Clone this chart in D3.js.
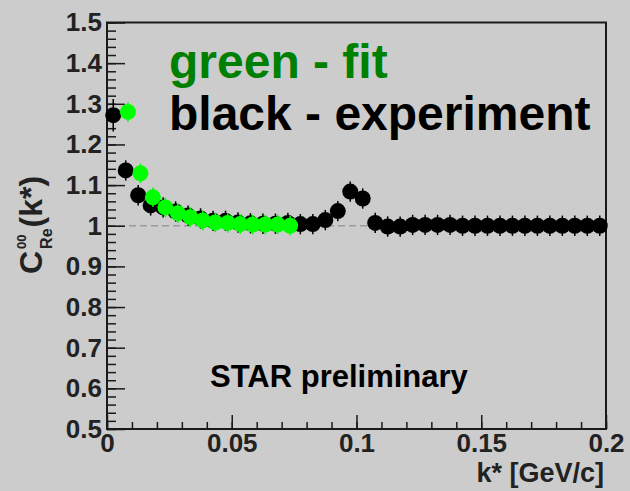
<!DOCTYPE html>
<html>
<head>
<meta charset="utf-8">
<script src="https://d3js.org/d3.v7.min.js"></script>
<style>
  body { margin: 0; background: #cccccc; }
  text { font-family: "Liberation Sans", Arial, sans-serif; font-weight: bold; }
</style>
</head>
<body>
<script>
// experiment points (black), bin centres every 0.005
var expK = d3.range(40).map(function(i) { return 0.0025 + 0.005 * i; });
var expC = [1.272, 1.136, 1.075, 1.050, 1.045, 1.035, 1.025, 1.018, 1.012, 1.012,
            1.008, 1.006, 1.005, 1.005, 1.007, 1.004, 1.004, 1.014, 1.036, 1.084,
            1.067, 1.007, 0.998, 0.998, 1.002, 1.002, 1.002, 1.002, 1.000, 1.000,
            1.000, 1.000, 1.000, 1.000, 1.000, 1.000, 1.000, 1.000, 1.000, 1.000];
var expErr = [0.040, 0.025, 0.025, 0.025, 0.025, 0.025, 0.025, 0.025, 0.025, 0.025,
              0.025, 0.025, 0.025, 0.025, 0.025, 0.025, 0.025, 0.025, 0.025, 0.025,
              0.025, 0.025, 0.025, 0.025, 0.025, 0.025, 0.025, 0.025, 0.025, 0.025,
              0.025, 0.025, 0.025, 0.025, 0.025, 0.025, 0.025, 0.025, 0.025, 0.025];

// fit points (green)
var fitK = d3.range(14).map(function(i) { return 0.0084 + 0.005 * i; });
var fitC = [1.280, 1.129, 1.070, 1.045, 1.031, 1.021, 1.013, 1.008, 1.007, 1.004,
            1.003, 1.003, 1.003, 1.000];
var fitErr = 0.024;

var yMajor = [0.5, 0.6, 0.7, 0.8, 0.9, 1.0, 1.1, 1.2, 1.3, 1.4, 1.5];
var xMajor = [0, 0.05, 0.1, 0.15, 0.2];

var W = 630, H = 491;
var x = d3.scaleLinear().domain([0, 0.2]).range([107, 606]);
var y = d3.scaleLinear().domain([0.5, 1.5]).range([429, 22.5]);

var svg = d3.select("body").append("svg")
    .attr("width", W).attr("height", H);

svg.append("rect").attr("width", W).attr("height", H).attr("fill", "#cccccc");

// dashed reference line at 1
svg.append("line")
    .attr("x1", x(0)).attr("x2", x(0.2))
    .attr("y1", y(1)).attr("y2", y(1))
    .attr("stroke", "#9a9a9a").attr("stroke-width", 1.5)
    .attr("stroke-dasharray", "7,4");

// frame
svg.append("rect")
    .attr("x", x(0)).attr("y", y(1.5))
    .attr("width", x(0.2) - x(0)).attr("height", y(0.5) - y(1.5))
    .attr("fill", "none").attr("stroke", "#1a1a1a").attr("stroke-width", 2);

// minor ticks
var yMinor = d3.range(51).map(function(i) { return 0.5 + i * 0.02; });
var xMinor = d3.range(21).map(function(i) { return i * 0.01; });

svg.append("g").attr("transform", "translate(" + x(0) + ",0)")
    .call(d3.axisLeft(y).tickValues(yMinor).tickSize(-9).tickFormat(""))
    .call(function(g) { g.select(".domain").remove(); g.selectAll("line").attr("stroke", "#1a1a1a").attr("stroke-width", 1.5); });

svg.append("g").attr("transform", "translate(0," + y(0.5) + ")")
    .call(d3.axisBottom(x).tickValues(xMinor).tickSize(-7).tickFormat(""))
    .call(function(g) { g.select(".domain").remove(); g.selectAll("line").attr("stroke", "#1a1a1a").attr("stroke-width", 1.5); });

// major ticks + labels
svg.append("g").attr("transform", "translate(" + x(0) + ",0)")
    .call(d3.axisLeft(y).tickValues(yMajor).tickSize(-18).tickPadding(5)
        .tickFormat(function(d) { return d === 1 ? "1" : d3.format(".1f")(d); }))
    .call(function(g) {
      g.select(".domain").remove();
      g.selectAll("line").attr("stroke", "#1a1a1a").attr("stroke-width", 1.5);
      g.selectAll("text").attr("font-size", 26).attr("fill", "#222")
        .attr("font-family", null).attr("font-weight", "bold");
    });

svg.append("g").attr("transform", "translate(0," + y(0.5) + ")")
    .call(d3.axisBottom(x).tickValues(xMajor).tickSize(-14).tickPadding(5)
        .tickFormat(function(d) { return d === 0 ? "0" : String(d); }))
    .call(function(g) {
      g.select(".domain").remove();
      g.selectAll("line").attr("stroke", "#1a1a1a").attr("stroke-width", 1.5);
      g.selectAll("text").attr("font-size", 26).attr("fill", "#222")
        .attr("font-family", null).attr("font-weight", "bold");
    });

// data
var expData = expK.map(function(k, i) { return { k: k, c: expC[i], e: expErr[i] }; });
var fitData = fitK.map(function(k, i) { return { k: k, c: fitC[i], e: fitErr }; });

function drawSeries(data, color) {
  var g = svg.append("g");
  g.selectAll("line.err").data(data).enter().append("line")
      .attr("x1", function(d) { return x(d.k); }).attr("x2", function(d) { return x(d.k); })
      .attr("y1", function(d) { return y(d.c + d.e); })
      .attr("y2", function(d) { return y(d.c - d.e); })
      .attr("stroke", color).attr("stroke-width", 1.5);
  g.selectAll("circle").data(data).enter().append("circle")
      .attr("cx", function(d) { return x(d.k); })
      .attr("cy", function(d) { return y(d.c); })
      .attr("r", 8).attr("fill", color);
}
drawSeries(expData, "#000");
drawSeries(fitData, "#00ff00");

// legend text
svg.append("text").attr("x", 169).attr("y", 78).attr("font-size", 48)
    .attr("fill", "#008000").text("green - fit");
svg.append("text").attr("x", 169).attr("y", 130).attr("font-size", 48)
    .attr("fill", "#000").text("black - experiment");
svg.append("text").attr("x", 210).attr("y", 387).attr("font-size", 31)
    .attr("fill", "#000").text("STAR preliminary");

// x title
svg.append("text").attr("x", 604).attr("y", 482).attr("font-size", 27)
    .attr("text-anchor", "end").attr("fill", "#222").text("k* [GeV/c]");

// y title, rotated
var yt = svg.append("g").attr("transform", "translate(42,274) rotate(-90)");
var tC = yt.append("text").attr("x", 0).attr("y", 0).attr("font-size", 32).attr("fill", "#222").text("C");
var wC = tC.node().getComputedTextLength();
var t00 = yt.append("text").attr("x", wC + 2).attr("y", -16).attr("font-size", 13).attr("fill", "#222").text("00");
var tRe = yt.append("text").attr("x", wC + 2).attr("y", 10).attr("font-size", 16).attr("fill", "#222").text("Re");
var wS = Math.max(t00.node().getComputedTextLength(), tRe.node().getComputedTextLength());
yt.append("text").attr("x", wC + wS + 3).attr("y", 0).attr("font-size", 32).attr("fill", "#222").text("(k*)");
</script>
</body>
</html>
